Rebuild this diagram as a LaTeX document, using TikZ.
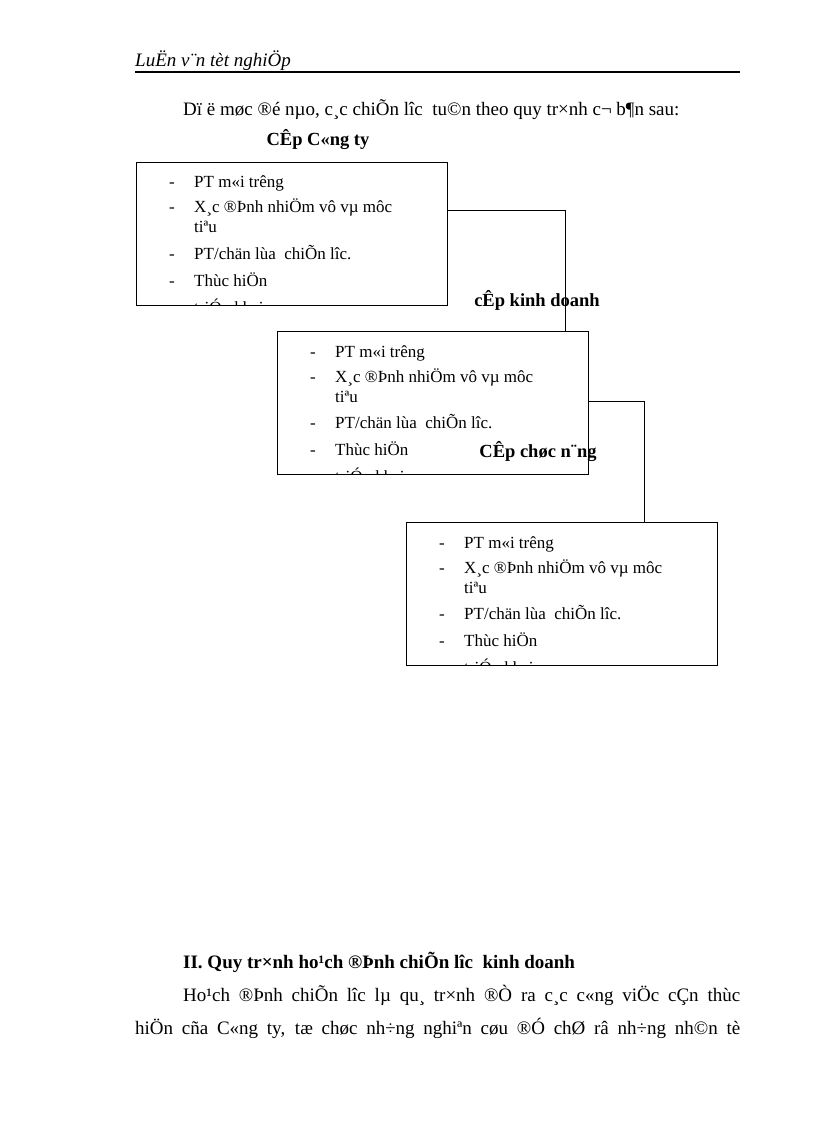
\documentclass[tikz,border=0pt]{standalone}
\usepackage{fontspec}
\setmainfont{Liberation Serif}
\begin{document}
\begin{tikzpicture}[x=1pt,y=-1pt,
  txt/.style={anchor=base west,inner sep=0pt,font=\fontsize{19}{22}\selectfont},
  btxt/.style={anchor=base west,inner sep=0pt,font=\fontsize{17}{20}\selectfont},
  lbl/.style={anchor=base,inner sep=0pt,font=\fontsize{18.5}{22}\selectfont\bfseries},
  conn/.style={draw,line width=0.8pt}]
\useasboundingbox (0,0) rectangle (816,1123);
\node[anchor=base west,inner sep=0pt,font=\fontsize{19}{22}\selectfont\itshape] (hd) at (135,67) {LuËn v¨n tèt nghiÖp};
\draw[line width=1.3pt] (135,72) -- (740,72);
\node[txt] (intro) at (183,116) {Dï ë møc ®é nµo, c¸c chiÕn lîc\ \ tu©n theo quy tr×nh c¬ b¶n sau:};
\node[lbl] (l1) at (318,146) {CÊp C«ng ty};
\node[lbl] (l2) at (537,306) {cÊp kinh doanh};
\node[lbl] (l3) at (538,457) {CÊp chøc n¨ng};
\foreach \n/\x/\y in {b1/136/162,b2/277/331,b3/406/522}{
  \begin{scope}
  \clip (\x,\y) rectangle ++(311,143);
  \foreach \d/\t/\dash in {26/{PT m«i tr­êng}/1,51/{X¸c ®Þnh nhiÖm vô vµ môc}/1,71/{tiªu}/0,97/{PT/chän lùa\ \ chiÕn l­îc.}/1,124/{Thùc hiÖn}/1,151/{triÓn khai}/0}{
    \ifnum\dash=1 \node[btxt] at (\x+33,\y+\d) {-};\fi
    \node[btxt] at (\x+58,\y+\d) {\t};
  }
  \end{scope}
  \node[draw,line width=0.8pt,minimum width=311pt,minimum height=143pt,anchor=north west,inner sep=0pt] (\n) at (\x,\y) {};
}
\draw[conn] (b1.east |- 0,210) -| (b2.north -| 565,0);
\draw[conn] (b2.east |- 0,401) -| (b3.north -| 644,0);
\node[txt,font=\fontsize{19}{22}\selectfont\bfseries] (h2) at (183,968) {II. Quy tr×nh ho¹ch ®Þnh chiÕn lîc\ \ kinh doanh};
\node[txt] (p1) at (183,1001) {\makebox[557pt][s]{Ho¹ch ®Þnh chiÕn l­îc lµ qu¸ tr×nh ®Ò ra c¸c c«ng viÖc cÇn thùc}};
\node[txt] (p2) at (135,1034) {\makebox[605pt][s]{hiÖn cña C«ng ty, tæ chøc nh÷ng nghiªn cøu ®Ó chØ râ nh÷ng nh©n tè}};
\end{tikzpicture}
\end{document}
